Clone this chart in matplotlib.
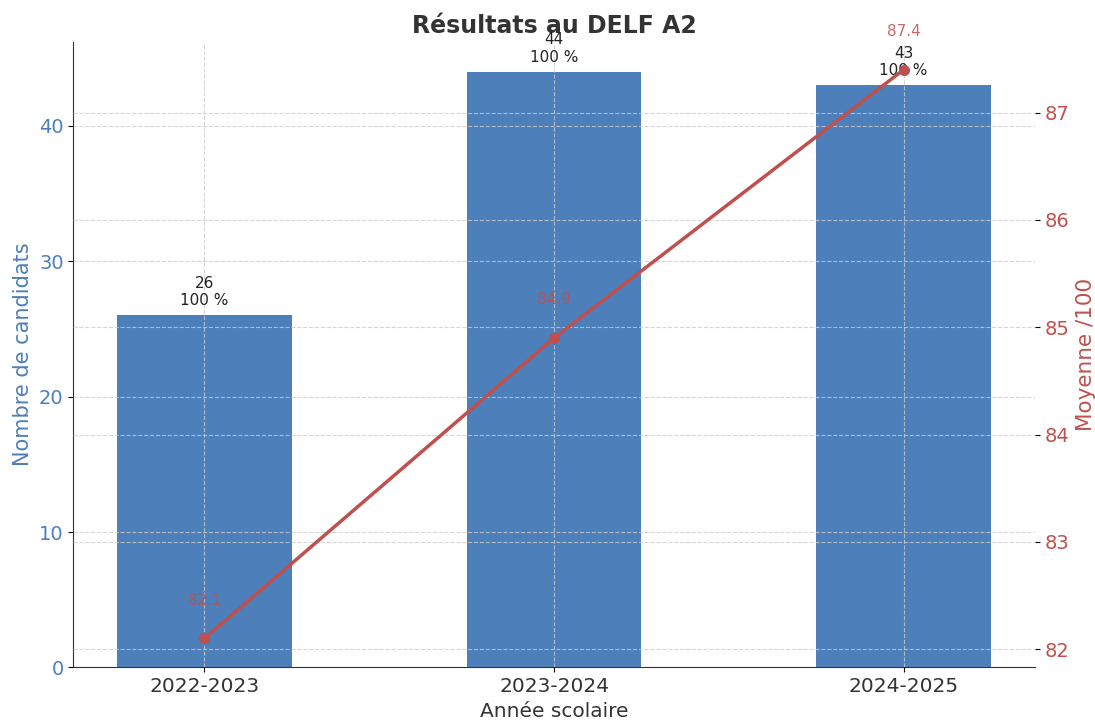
import numpy as np
import matplotlib.pyplot as plt

annees = ['2022-2023', '2023-2024', '2024-2025']
candidats = [26, 44, 43]
reussite = ['100 %', '100 %', '100 %']
moyennes = [82.1, 84.9, 87.4]

bleu = '#4d7fba'
rouge = '#c0504d'
gris = '#333333'

fig, ax = plt.subplots(figsize=(10.95, 7.2), dpi=100)
x = np.arange(len(annees))

ax.bar(x, candidats, width=0.5, color=bleu, zorder=2)
ax.set_ylim(0, max(candidats) * 1.05)
ax.set_xticks(x)
ax.set_xticklabels(annees, fontsize=14.5, color=gris)
ax.set_xlabel('Année scolaire', fontsize=14.5, color=gris)
ax.set_ylabel('Nombre de candidats', fontsize=15, color=bleu)
ax.tick_params(axis='y', labelcolor=bleu, labelsize=14)
ax.set_axisbelow(False)
ax.grid(True, linestyle='--', color='#cccccc', linewidth=0.8, alpha=0.8)
for s in ['top', 'right']:
    ax.spines[s].set_visible(False)
for s in ['left', 'bottom']:
    ax.spines[s].set_color(gris)

for xi, n, r in zip(x, candidats, reussite):
    ax.annotate(f'{n}\n{r}', (xi, n), xytext=(0, 5), textcoords='offset points',
                ha='center', va='bottom', fontsize=11, color='#222222', zorder=5)

ax2 = ax.twinx()
ax2.plot(x, moyennes, color=rouge, linewidth=2.5, marker='o', markersize=7, zorder=3)
ax2.set_ylim(min(moyennes) - 0.27, max(moyennes) + 0.26)
ax2.set_ylabel('Moyenne /100', fontsize=15.5, color=rouge, labelpad=5)
ax2.tick_params(axis='y', labelcolor=rouge, labelsize=14)
ax2.grid(True, axis='y', linestyle='--', color='#cccccc', linewidth=0.8, alpha=0.8)
for s in ['top', 'right', 'left', 'bottom']:
    ax2.spines[s].set_visible(False)

for xi, m in zip(x, moyennes):
    ax2.annotate(f'{m}', (xi, m), xytext=(0, 22), textcoords='offset points',
                 ha='center', va='bottom', fontsize=11, color=rouge, alpha=0.85)

ax.set_title('Résultats au DELF A2', fontsize=17, fontweight='bold', color=gris)

plt.subplots_adjust(left=0.067, right=0.945, top=0.942, bottom=0.073)
plt.savefig('out.png')
